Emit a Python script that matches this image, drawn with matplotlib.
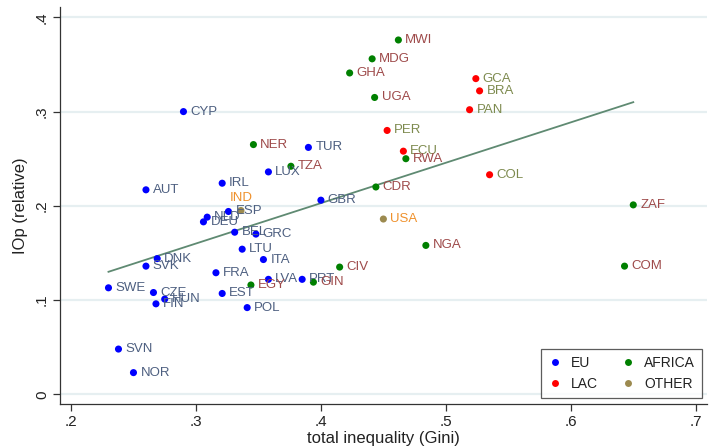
import numpy as np
import matplotlib
matplotlib.use("Agg")
import matplotlib.pyplot as plt
from matplotlib.lines import Line2D

plt.rcParams['font.family'] = ['Liberation Sans', 'DejaVu Sans']

# ---- data ----
countries = ["CYP", "NER", "TUR", "TZA", "LUX", "IRL", "AUT", "GHA", "MDG", "UGA",
             "GBR", "CDR", "IND", "ESP", "MWI", "GCA", "BRA", "PAN", "PER", "ECU",
             "RWA", "COL", "ZAF", "NLD", "DEU", "BEL", "GRC", "LTU", "ITA", "DNK",
             "SVK", "FRA", "CIV", "LVA", "PRT", "GIN", "EGY", "SWE", "CZE", "EST",
             "HUN", "FIN", "POL", "SVN", "NOR", "USA", "NGA", "COM"]
gini = [0.290, 0.346, 0.390, 0.376, 0.358, 0.321, 0.260, 0.423, 0.441, 0.443,
        0.400, 0.444, 0.336, 0.326, 0.462, 0.524, 0.527, 0.519, 0.453, 0.466,
        0.468, 0.535, 0.650, 0.309, 0.306, 0.331, 0.348, 0.337, 0.354, 0.269,
        0.260, 0.316, 0.415, 0.358, 0.385, 0.394, 0.344, 0.230, 0.266, 0.321,
        0.275, 0.268, 0.341, 0.238, 0.250, 0.450, 0.484, 0.643]
iop = [0.300, 0.265, 0.262, 0.242, 0.236, 0.224, 0.217, 0.341, 0.356, 0.315,
       0.206, 0.220, 0.195, 0.194, 0.376, 0.335, 0.322, 0.302, 0.280, 0.258,
       0.250, 0.233, 0.201, 0.188, 0.183, 0.172, 0.170, 0.154, 0.143, 0.144,
       0.136, 0.129, 0.135, 0.122, 0.122, 0.119, 0.116, 0.113, 0.108, 0.107,
       0.101, 0.096, 0.092, 0.048, 0.023, 0.186, 0.158, 0.136]
region = ["EU", "AFRICA", "EU", "AFRICA", "EU", "EU", "EU", "AFRICA", "AFRICA", "AFRICA",
          "EU", "AFRICA", "OTHER", "EU", "AFRICA", "LAC", "LAC", "LAC", "LAC", "LAC",
          "AFRICA", "LAC", "AFRICA", "EU", "EU", "EU", "EU", "EU", "EU", "EU",
          "EU", "EU", "AFRICA", "EU", "EU", "AFRICA", "AFRICA", "EU", "EU", "EU",
          "EU", "EU", "EU", "EU", "EU", "OTHER", "AFRICA", "AFRICA"]

# fitted line end points
fit_x = [0.230, 0.650]
fit_y = [0.130, 0.310]

regions = ["EU", "LAC", "AFRICA", "OTHER"]
marker_col = {"EU": "#0000ff", "LAC": "#ff0000", "AFRICA": "#008000", "OTHER": "#9c8a4f"}
label_col = {"EU": "#4d5f80", "LAC": "#7d8a4e", "AFRICA": "#9e4a4a", "OTHER": "#ef912c"}

W, H = 715, 448
fig = plt.figure(figsize=(W / 100, H / 100), dpi=100)
ax = fig.add_axes([60 / W, (H - 404) / H, (707 - 60) / W, (404 - 7) / H])

ax.set_xlim(0.1912, 0.709)
ax.set_ylim(-0.0103, 0.411)

for yv in [0, 0.1, 0.2, 0.3, 0.4]:
    ax.axhline(yv, color="#e6eff1", lw=1.6, zorder=0)

ax.plot(fit_x, fit_y, color="#5f8a72", lw=1.3, zorder=1)

for name, x, y, r in zip(countries, gini, iop, region):
    ax.scatter(x, y, s=26, color=marker_col[r], edgecolor="none", zorder=3)
    if name == "IND":
        ax.annotate(name, (x, y), xytext=(0, 5), textcoords="offset points",
                    ha="center", va="bottom", fontsize=9.5, color=label_col[r], zorder=4)
    else:
        ax.annotate(name, (x, y), xytext=(5, 0), textcoords="offset points",
                    ha="left", va="center", fontsize=9.5, color=label_col[r], zorder=4)

for s in ["top", "right"]:
    ax.spines[s].set_visible(False)
for s in ["left", "bottom"]:
    ax.spines[s].set_color("#333333")
    ax.spines[s].set_linewidth(0.9)

ax.set_xticks([0.2, 0.3, 0.4, 0.5, 0.6, 0.7])
ax.set_xticklabels([".2", ".3", ".4", ".5", ".6", ".7"])
ax.set_yticks([0, 0.1, 0.2, 0.3, 0.4])
ax.set_yticklabels(["0", ".1", ".2", ".3", ".4"], rotation=90, va="center")
ax.tick_params(axis="both", direction="out", length=5, width=0.9, color="#333333",
               labelsize=11, labelcolor="#222222", pad=3)

ax.set_xlabel("total inequality (Gini)", fontsize=12, color="#222222", labelpad=1)
ax.set_ylabel("IOp (relative)", fontsize=12, color="#222222", labelpad=5)

handles = [Line2D([], [], marker="o", ls="none", ms=5, color=marker_col[r], mec="none",
                  label=r) for r in regions]
leg = ax.legend(handles=handles, ncol=2, loc="lower right", bbox_to_anchor=(1.003, -0.003),
                fontsize=10, frameon=True, fancybox=False, edgecolor="#333333",
                handlelength=1.0, handletextpad=0.7, columnspacing=1.6,
                borderpad=0.5, labelspacing=0.5)
leg.get_frame().set_linewidth(0.9)
for t in leg.get_texts():
    t.set_color("#222222")

fig.savefig("out.png", dpi=100)
